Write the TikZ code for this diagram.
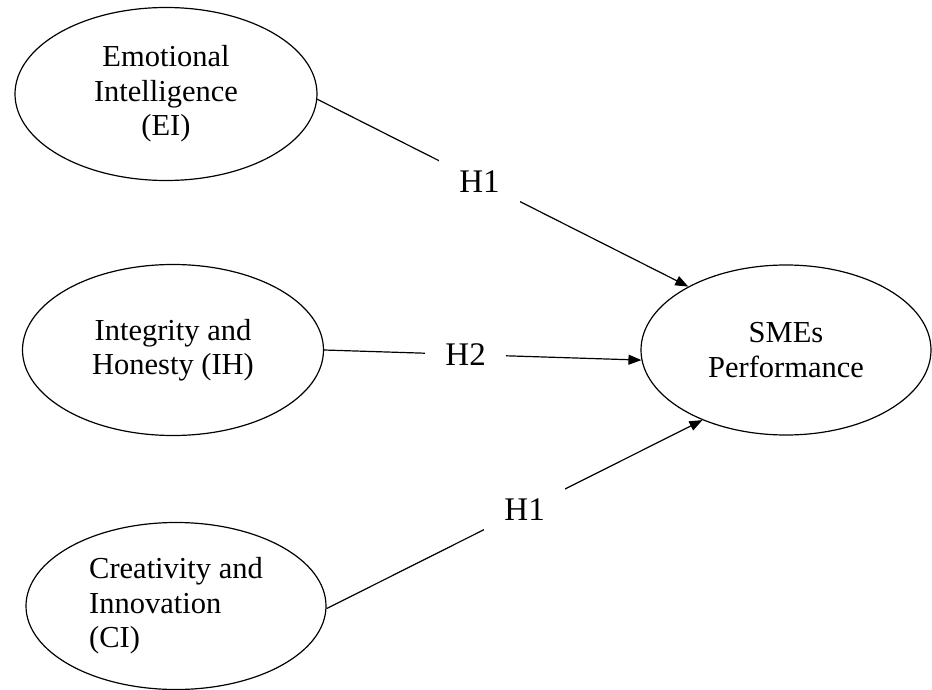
\documentclass[tikz,border=0pt]{standalone}
\usepackage{fontspec}
\setmainfont{Liberation Serif}
\usetikzlibrary{shapes.geometric,arrows.meta}
\begin{document}
\begin{tikzpicture}[x=1pt,y=-1pt,
  latent/.style={draw, ellipse, line width=1.2pt, inner sep=0pt,
    font=\fontsize{30.5}{34.5}\selectfont, align=center},
  conn/.style={line width=1.2pt, -{Triangle[length=13pt,width=10pt]}},
  hyp/.style={fill=white, inner xsep=20pt, inner ysep=11pt,
    font=\fontsize{33}{36}\selectfont}]
\useasboundingbox (0,0) rectangle (932,690);
\node[latent, minimum width=302pt, minimum height=173pt] (EI) at (166,94)
  {Emotional\\Intelligence\\(EI)};
\node[latent, minimum width=301pt, minimum height=171pt] (IH) at (173,350)
  {Integrity and\\Honesty (IH)};
\node[latent, align=left, minimum width=300pt, minimum height=167pt] (CI) at (176,606)
  {Creativity and\\Innovation\\(CI)};
\node[latent, minimum width=290pt, minimum height=170pt] (SME) at (786,350)
  {SMEs\\Performance};
\draw[conn] (EI.-2) -- node[hyp, pos=0.437] (L1) {H1} (SME.147);
\draw[conn] (IH.east) -- node[hyp, pos=0.446] (L2) {H2} (SME.184);
\draw[conn] (CI.-1) -- node[hyp, pos=0.527] (L3) {H1} (SME.220);
\end{tikzpicture}
\end{document}
